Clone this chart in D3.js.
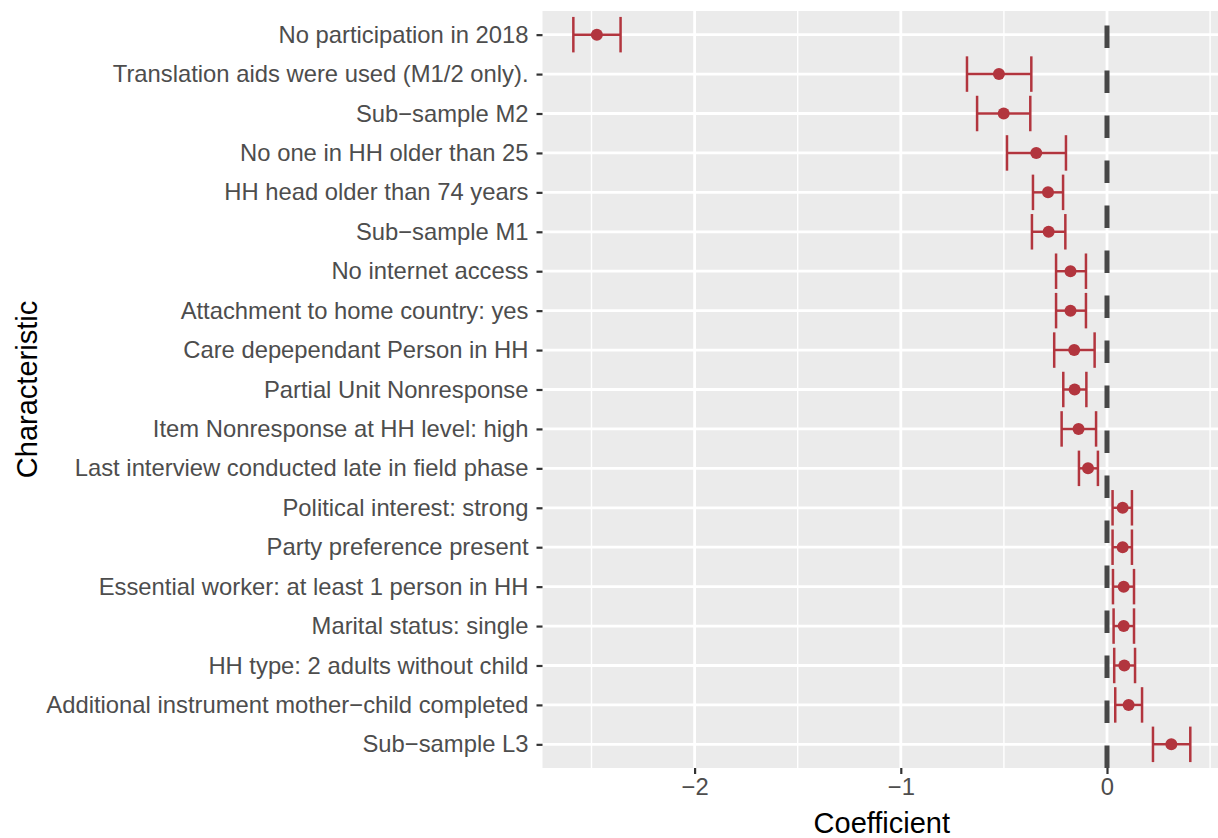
<!DOCTYPE html>
<html><head><meta charset="utf-8">
<script src="https://cdn.jsdelivr.net/npm/d3@7"></script>
<style>body{margin:0;background:#fff}svg{display:block}text{font-family:"Liberation Sans",Arial,Helvetica,sans-serif}</style>
</head><body><svg id="c" width="1218" height="838"></svg>
<script>
const categories = [
  "No participation in 2018",
  "Translation aids were used (M1/2 only).",
  "Sub\u2212sample M2",
  "No one in HH older than 25",
  "HH head older than 74 years",
  "Sub\u2212sample M1",
  "No internet access",
  "Attachment to home country: yes",
  "Care depependant Person in HH",
  "Partial Unit Nonresponse",
  "Item Nonresponse at HH level: high",
  "Last interview conducted late in field phase",
  "Political interest: strong",
  "Party preference present",
  "Essential worker: at least 1 person in HH",
  "Marital status: single",
  "HH type: 2 adults without child",
  "Additional instrument mother\u2212child completed",
  "Sub\u2212sample L3"
];
const estimates = [-2.474,-0.524,-0.501,-0.343,-0.286,-0.283,-0.177,-0.177,-0.159,-0.157,-0.138,-0.092,0.076,0.076,0.081,0.081,0.084,0.105,0.312];
const lowerCI   = [-2.588,-0.679,-0.630,-0.485,-0.359,-0.364,-0.247,-0.247,-0.256,-0.212,-0.220,-0.136,0.027,0.027,0.029,0.032,0.035,0.040,0.223];
const upperCI   = [-2.359,-0.367,-0.372,-0.199,-0.213,-0.202,-0.102,-0.102,-0.060,-0.100,-0.053,-0.044,0.121,0.121,0.131,0.131,0.136,0.170,0.404];
const xTicks = [-2,-1,0];
const xMinor = [-2.5,-1.5,-0.5,0.5];
const xTickLabels = ["\u22122","\u22121","0"];

const svg = d3.select("#c");
const panel = {left:542.5, top:11, bottom:768};
const lo = d3.min(lowerCI), hi = d3.max(upperCI);
const pad = (hi - lo) * 0.05;
const unit = 206.2;
const x = d3.scaleLinear().domain([lo - pad, hi + pad])
  .range([panel.left, panel.left + (hi - lo + 2*pad) * unit]);
const y = d3.scalePoint().domain(categories).range([panel.top, panel.bottom]).padding(0.6);
const pr = x.range()[1];

svg.append("rect").attr("x", panel.left).attr("y", panel.top)
  .attr("width", pr - panel.left).attr("height", panel.bottom - panel.top).attr("fill", "#EBEBEB");

const g = svg.append("g");
g.selectAll(".minor").data(xMinor).join("line")
  .attr("x1", d => x(d)).attr("x2", d => x(d)).attr("y1", panel.top).attr("y2", panel.bottom)
  .attr("stroke", "#fff").attr("stroke-width", 1.4);
g.selectAll(".majx").data(xTicks).join("line")
  .attr("x1", d => x(d)).attr("x2", d => x(d)).attr("y1", panel.top).attr("y2", panel.bottom)
  .attr("stroke", "#fff").attr("stroke-width", 2.8);
g.selectAll(".majy").data(categories).join("line")
  .attr("x1", panel.left).attr("x2", pr).attr("y1", d => y(d)).attr("y2", d => y(d))
  .attr("stroke", "#fff").attr("stroke-width", 2.8);

// reference line at 0
svg.append("line").attr("x1", x(0)).attr("x2", x(0)).attr("y1", panel.bottom).attr("y2", panel.top)
  .attr("stroke", "#474747").attr("stroke-width", 5).attr("stroke-dasharray", "22.4,22.6");

const col = "#B2353E";
const capH = y.step() * 0.9 / 2;
const rows = categories.map((c, i) => ({c, est: estimates[i], lo: lowerCI[i], hi: upperCI[i]}));
const eb = svg.append("g").attr("stroke", col).attr("stroke-width", 2.5).attr("fill", "none");
eb.selectAll(".h").data(rows).join("line")
  .attr("x1", d => x(d.lo)).attr("x2", d => x(d.hi)).attr("y1", d => y(d.c)).attr("y2", d => y(d.c));
eb.selectAll(".l").data(rows).join("line")
  .attr("x1", d => x(d.lo)).attr("x2", d => x(d.lo)).attr("y1", d => y(d.c) - capH).attr("y2", d => y(d.c) + capH);
eb.selectAll(".r").data(rows).join("line")
  .attr("x1", d => x(d.hi)).attr("x2", d => x(d.hi)).attr("y1", d => y(d.c) - capH).attr("y2", d => y(d.c) + capH);
svg.append("g").selectAll("circle").data(rows).join("circle")
  .attr("cx", d => x(d.est)).attr("cy", d => y(d.c)).attr("r", 6).attr("fill", col);

// axes
const xAxis = d3.axisBottom(x).tickValues(xTicks).tickSize(6).tickPadding(4)
  .tickFormat((d, i) => xTickLabels[i]);
const xa = svg.append("g").attr("transform", `translate(0,${panel.bottom})`).call(xAxis);
xa.select(".domain").remove();
xa.selectAll(".tick line").attr("stroke", "#333").attr("stroke-width", 2.2);
xa.selectAll(".tick text").attr("fill", "#4D4D4D").attr("font-size", 23.8);

const yAxis = d3.axisLeft(y).tickSize(6).tickPadding(8);
const ya = svg.append("g").attr("transform", `translate(${panel.left},0)`).call(yAxis);
ya.select(".domain").remove();
ya.selectAll(".tick line").attr("stroke", "#333").attr("stroke-width", 2.2);
ya.selectAll(".tick text").attr("fill", "#4D4D4D").attr("font-size", 23.8);

svg.append("text").attr("x", (panel.left + pr) / 2).attr("y", 833).attr("text-anchor", "middle")
  .attr("font-size", 29).attr("fill", "#000").text("Coefficient");
svg.append("text").attr("transform", `translate(37,${(panel.top + panel.bottom) / 2}) rotate(-90)`)
  .attr("text-anchor", "middle").attr("font-size", 29).attr("fill", "#000").text("Characteristic");
</script></body></html>
